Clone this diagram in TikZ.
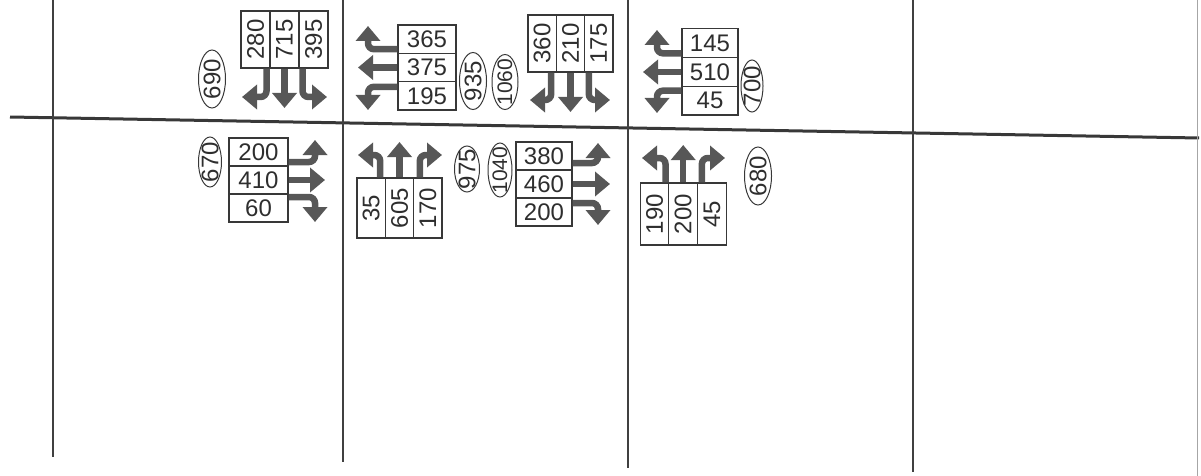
\documentclass[tikz,border=0pt]{standalone}
\usepackage{fontspec}
\setmainfont{Liberation Sans}
\usetikzlibrary{arrows.meta,shapes.geometric,calc}
\tikzset{
  street/.style={draw=black!78, line width=3pt},
  vstreet/.style={draw=black!75, line width=2.4pt},
  cellbox/.style={draw=black!78, line width=1.1pt, inner sep=0pt, text=black!82,
    font=\fontsize{24}{24}\selectfont},
  vol/.style={ellipse, draw=black!78, line width=1pt, inner sep=-6pt, rotate=90,
    text=black!82, font=\fontsize{24}{24}\selectfont},
  volw/.style={vol, font=\fontsize{21}{21}\selectfont},
  mv/.style={draw=black!66, line width=6.5pt, rounded corners=6pt,
    -{Triangle[width=24pt,length=15pt]}}
}
\begin{document}
\begin{tikzpicture}[x=1pt,y=-1pt]
\useasboundingbox (0,0) rectangle (1201,476);
% streets
\coordinate (hL) at (10,117); \coordinate (hR) at (1199,138);
\draw[street] (hL) -- (hR);
\coordinate (v1t) at (53,0);  \coordinate (v1b) at (53,457);
\coordinate (v2t) at (343,0); \coordinate (v2b) at (343,462);
\coordinate (v3t) at (628,0); \coordinate (v3b) at (628,468);
\coordinate (v4t) at (913,0); \coordinate (v4b) at (913,472);
\draw[vstreet] (v1t) -- (v1b);
\draw[vstreet] (v2t) -- (v2b);
\draw[vstreet] (v3t) -- (v3b);
\draw[vstreet] (v4t) -- (v4b);
\coordinate (edgeT) at (1197,0); \coordinate (edgeB) at (1197,476);
\draw[draw=black!35, line width=1pt] (edgeT) -- (edgeB);

% ===== Block 1: southbound at A
\node[cellbox, rotate=90, minimum width=57pt, minimum height=29pt] (sA1) at (255.5,39.5) {280};
\node[cellbox, rotate=90, minimum width=57pt, minimum height=29pt] (sA2) at (284.5,39.5) {715};
\node[cellbox, rotate=90, minimum width=57pt, minimum height=29pt] (sA3) at (313.5,39.5) {395};
\coordinate (sA1t) at (242,97); \coordinate (sA2t) at (284.5,108); \coordinate (sA3t) at (327,97);
\draw[mv] ([xshift=11pt]sA1.west) |- (sA1t);
\draw[mv] (sA2.west) -- (sA2t);
\draw[mv] ([xshift=-11pt]sA3.west) |- (sA3t);
\node[vol, minimum width=58pt, minimum height=27pt] (v690) at (212,79) {690};

% ===== Block 2: westbound at A
\node[cellbox, minimum width=58pt, minimum height=28.33pt] (wA1) at (427,39.2) {365};
\node[cellbox, minimum width=58pt, minimum height=28.33pt] (wA2) at (427,67.5) {375};
\node[cellbox, minimum width=58pt, minimum height=28.33pt] (wA3) at (427,95.8) {195};
\coordinate (wA1t) at (368,26); \coordinate (wA2t) at (358,67.5); \coordinate (wA3t) at (368,110);
\draw[mv] ([yshift=-10pt]wA1.west) -| (wA1t);
\draw[mv] (wA2.west) -- (wA2t);
\draw[mv] ([yshift=9pt]wA3.west) -| (wA3t);
\node[vol, minimum width=57pt, minimum height=27pt] (v935) at (473,81) {935};
\node[volw, minimum width=55pt, minimum height=26pt] (v1060) at (505,82) {1060};

% ===== Block 3: southbound at B
\node[cellbox, rotate=90, minimum width=57pt, minimum height=28.33pt] (sB1) at (542.2,43.5) {360};
\node[cellbox, rotate=90, minimum width=57pt, minimum height=28.33pt] (sB2) at (570.5,43.5) {210};
\node[cellbox, rotate=90, minimum width=57pt, minimum height=28.33pt] (sB3) at (598.8,43.5) {175};
\coordinate (sB1t) at (530,100); \coordinate (sB2t) at (570.5,112); \coordinate (sB3t) at (610,100);
\draw[mv] ([xshift=9pt]sB1.west) |- (sB1t);
\draw[mv] (sB2.west) -- (sB2t);
\draw[mv] ([xshift=-10pt]sB3.west) |- (sB3t);

% ===== Block 4: westbound at B
\node[cellbox, minimum width=56pt, minimum height=28.7pt] (wB1) at (710,43.3) {145};
\node[cellbox, minimum width=56pt, minimum height=28.7pt] (wB2) at (710,72) {510};
\node[cellbox, minimum width=56pt, minimum height=28.7pt] (wB3) at (710,100.7) {45};
\coordinate (wB1t) at (657,30); \coordinate (wB2t) at (643,72); \coordinate (wB3t) at (657,113);
\draw[mv] ([yshift=-10pt]wB1.west) -| (wB1t);
\draw[mv] (wB2.west) -- (wB2t);
\draw[mv] ([yshift=10pt]wB3.west) -| (wB3t);
\node[vol, minimum width=52pt, minimum height=22pt] (v700) at (752,86) {700};

% ===== Block 5: eastbound at A
\node[cellbox, minimum width=59pt, minimum height=28pt] (eA1) at (258.5,152) {200};
\node[cellbox, minimum width=59pt, minimum height=28pt] (eA2) at (258.5,180) {410};
\node[cellbox, minimum width=59pt, minimum height=28pt] (eA3) at (258.5,208) {60};
\coordinate (eA1t) at (315,140); \coordinate (eA2t) at (325,180); \coordinate (eA3t) at (315,222);
\draw[mv] ([yshift=-10pt]eA1.east) -| (eA1t);
\draw[mv] (eA2.east) -- (eA2t);
\draw[mv] ([yshift=11pt]eA3.east) -| (eA3t);
\node[vol, minimum width=50pt, minimum height=23pt] (v670) at (210,162) {670};

% ===== Block 6: northbound at A
\node[cellbox, rotate=90, minimum width=60pt, minimum height=28.33pt] (nA1) at (371.2,208) {35};
\node[cellbox, rotate=90, minimum width=60pt, minimum height=28.33pt] (nA2) at (399.5,208) {605};
\node[cellbox, rotate=90, minimum width=60pt, minimum height=28.33pt] (nA3) at (427.8,208) {170};
\coordinate (nA1t) at (358,155); \coordinate (nA2t) at (399.5,142); \coordinate (nA3t) at (442,155);
\draw[mv] ([xshift=9pt]nA1.east) |- (nA1t);
\draw[mv] (nA2.east) -- (nA2t);
\draw[mv] ([xshift=-8pt]nA3.east) |- (nA3t);
\node[vol, minimum width=46pt, minimum height=25pt] (v975) at (467,169) {975};
\node[volw, minimum width=54pt, minimum height=24pt] (v1040) at (500,170) {1040};

% ===== Block 7: eastbound at B
\node[cellbox, minimum width=56pt, minimum height=28pt] (eB1) at (544,156) {380};
\node[cellbox, minimum width=56pt, minimum height=28pt] (eB2) at (544,184) {460};
\node[cellbox, minimum width=56pt, minimum height=28pt] (eB3) at (544,212) {200};
\coordinate (eB1t) at (598,143); \coordinate (eB2t) at (610,184); \coordinate (eB3t) at (598,225);
\draw[mv] ([yshift=-7pt]eB1.east) -| (eB1t);
\draw[mv] (eB2.east) -- (eB2t);
\draw[mv] ([yshift=9pt]eB3.east) -| (eB3t);

% ===== Block 8: northbound at B
\node[cellbox, rotate=90, minimum width=62pt, minimum height=28.7pt] (nB1) at (654.5,214) {190};
\node[cellbox, rotate=90, minimum width=62pt, minimum height=28.7pt] (nB2) at (683.2,214) {200};
\node[cellbox, rotate=90, minimum width=62pt, minimum height=28.7pt] (nB3) at (711.9,214) {45};
\coordinate (nB1t) at (642,158); \coordinate (nB2t) at (683.2,145); \coordinate (nB3t) at (725,158);
\draw[mv] ([xshift=11pt]nB1.east) |- (nB1t);
\draw[mv] (nB2.east) -- (nB2t);
\draw[mv] ([xshift=-10pt]nB3.east) |- (nB3t);
\node[vol, minimum width=58pt, minimum height=27pt] (v680) at (758,176) {680};
\end{tikzpicture}
\end{document}
